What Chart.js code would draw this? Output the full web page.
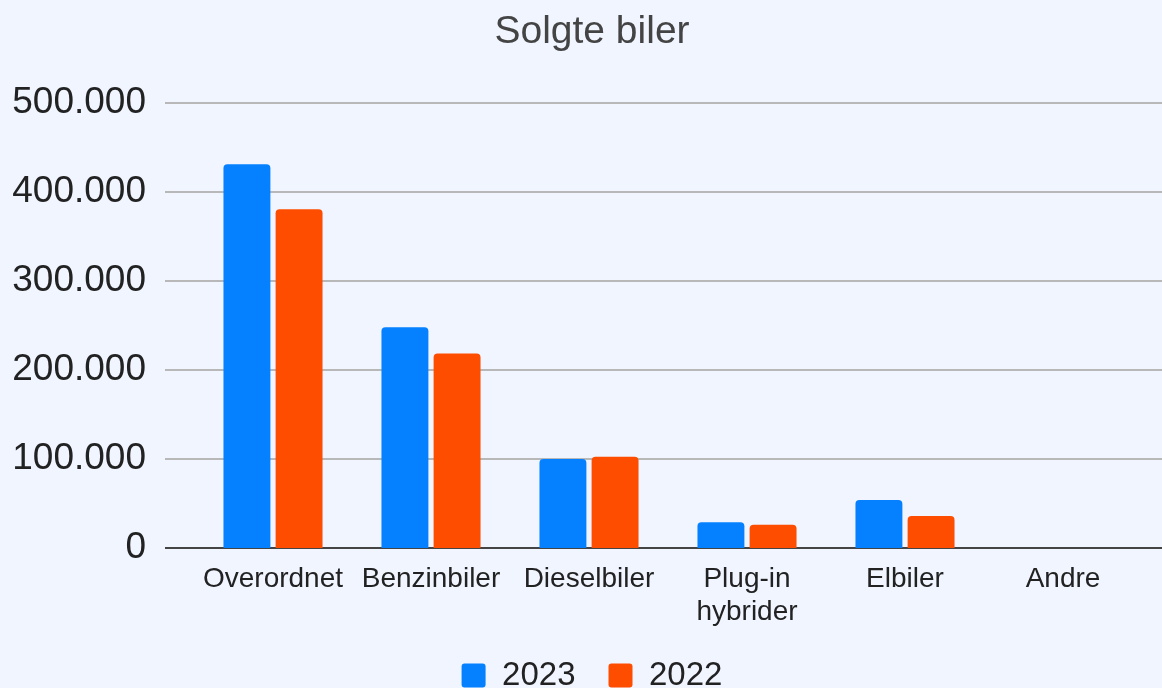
<!DOCTYPE html>
<html>
<head>
<meta charset="utf-8">
<script src="https://cdn.jsdelivr.net/npm/chart.js@4/dist/chart.umd.min.js"></script>
<style>
  html, body { margin: 0; padding: 0; background: #f0f5ff; }
  #wrap { width: 1162px; height: 688px; }
</style>
</head>
<body>
<div id="wrap"><canvas id="carChart"></canvas></div>
<script>
const categories = ['Overordnet', 'Benzinbiler', 'Dieselbiler', ['Plug-in', 'hybrider'], 'Elbiler', 'Andre'];
const sales2023 = [431000, 248000, 100000, 29000, 54000, 0];
const sales2022 = [380500, 218500, 102500, 26000, 36000, 0];
const yTickValues = [0, 100000, 200000, 300000, 400000, 500000];
const yTickLabels = ['0', '100.000', '200.000', '300.000', '400.000', '500.000'];

const FONT = '"Liberation Sans", Arial, sans-serif';

// grid lines reach further left/right than the bars do
const fullGrid = {
  id: 'fullGrid',
  beforeDatasetsDraw(chart) {
    const { ctx, scales, chartArea } = chart;
    const y = scales.y;
    ctx.save();
    yTickValues.forEach(v => {
      const py = Math.round(y.getPixelForValue(v));
      ctx.beginPath();
      ctx.lineWidth = 2;
      ctx.strokeStyle = v === 0 ? '#444444' : '#b8b8b8';
      ctx.moveTo(chartArea.left - 29, py);
      ctx.lineTo(chart.width, py);
      ctx.stroke();
    });
    ctx.restore();
  },
};

const ctx = document.getElementById('carChart').getContext('2d');
const carChart = new Chart(ctx, {
  type: 'bar',
  data: {
    labels: categories,
    datasets: [
      {
        label: '2023',
        data: sales2023,
        backgroundColor: '#0581ff',
        borderRadius: 4,
        borderSkipped: 'start',
      },
      {
        label: '2022',
        data: sales2022,
        backgroundColor: '#ff4d00',
        borderRadius: 4,
        borderSkipped: 'start',
      },
    ],
  },
  options: {
    responsive: true,
    maintainAspectRatio: false,
    animation: false,
    layout: { padding: { left: 13, right: -9, top: 0, bottom: -14 } },
    datasets: {
      bar: { categoryPercentage: 0.66, barPercentage: 0.9 },
    },
    plugins: {
      title: {
        display: true,
        text: 'Solgte biler',
        color: '#444444',
        font: { family: FONT, size: 39, weight: 'normal' },
        padding: { top: 9, bottom: 47 },
      },
      legend: {
        position: 'bottom',
        labels: {
          color: '#222222',
          font: { family: FONT, size: 33 },
          boxWidth: 24,
          boxHeight: 24,
          useBorderRadius: true,
          borderRadius: 3,
          padding: 33,
        },
      },
      tooltip: { enabled: false },
    },
    scales: {
      x: {
        grid: { display: false },
        border: { display: false },
        afterFit: axis => { axis.height = 78; },
        ticks: {
          color: '#222222',
          font: { family: FONT, size: 28, lineHeight: 1.2 },
          padding: 6,
          maxRotation: 0,
          autoSkip: false,
        },
      },
      y: {
        min: 0,
        max: 500000,
        grid: { display: false, drawTicks: false },
        border: { display: false },
        afterFit: axis => { axis.width = 181; },
        afterBuildTicks: axis => {
          axis.ticks = yTickValues.map(v => ({ value: v }));
        },
        ticks: {
          color: '#222222',
          font: { family: FONT, size: 37 },
          padding: 48,
          callback: (value, index) => yTickLabels[index],
        },
      },
      // empty right axis, only reserves the margin right of the last category
      yRight: {
        position: 'right',
        display: true,
        grid: { display: false, drawTicks: false },
        border: { display: false },
        ticks: { display: false },
        afterFit: axis => { axis.width = 29; },
      },
    },
  },
  plugins: [fullGrid],
});
</script>
</body>
</html>
